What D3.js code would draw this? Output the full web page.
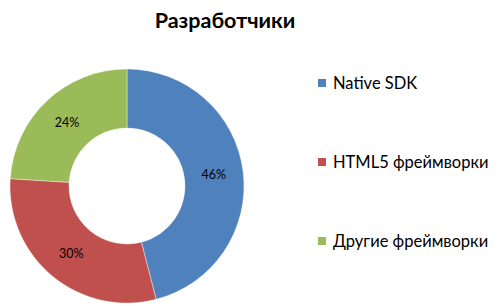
<!DOCTYPE html>
<html>
<head>
<meta charset="utf-8">
<script src="https://d3js.org/d3.v7.min.js"></script>
<style>
  body { margin: 0; background: #fff; }
  text { font-family: Lato, "Open Sans", sans-serif; }
</style>
</head>
<body>
<script>
var title = 'Разработчики';
var categories = ['Native SDK', 'HTML5 фреймворки', 'Другие фреймворки'];
var values = [46, 30, 24];
var colors = ['#4F81BD', '#C0504D', '#9BBB59'];

var width = 500;
var height = 306;
var cx = 127, cy = 186;
var outerradius = 117;
var innerradius = 58;

var svg = d3.select('body')
    .append('svg')
    .attr('width', width)
    .attr('height', height);

svg.append('text')
    .attr('x', 225)
    .attr('y', 28)
    .attr('text-anchor', 'middle')
    .style('font-size', '21.5px')
    .style('font-weight', 'bold')
    .text(title);

var color = d3.scaleOrdinal().domain(categories).range(colors);

var pie = d3.pie()
    .value(function(d) { return d.value; })
    .sort(null);

var arc = d3.arc()
    .innerRadius(innerradius)
    .outerRadius(outerradius);

var data = categories.map(function(c, i) { return { label: c, value: values[i] }; });
var total = d3.sum(values);

var g = svg.append('g')
    .attr('transform', 'translate(' + cx + ',' + cy + ')');

var slices = g.selectAll('.arc')
    .data(pie(data))
    .enter()
    .append('g');

slices.append('path')
    .attr('d', arc)
    .attr('fill', function(d) { return color(d.data.label); })
    .attr('stroke', '#fff')
    .attr('stroke-width', 0.4);

slices.append('text')
    .attr('transform', function(d) { return 'translate(' + arc.centroid(d) + ')'; })
    .attr('dy', '.35em')
    .attr('text-anchor', 'middle')
    .style('font-size', '12.5px')
    .text(function(d) { return Math.round(d.data.value / total * 100) + '%'; });

// legend
var legendY = d3.scalePoint().domain(categories).range([83, 241]);

var legend = svg.selectAll('.legend')
    .data(categories)
    .enter()
    .append('g')
    .attr('transform', function(d) { return 'translate(318,' + legendY(d) + ')'; });

legend.append('rect')
    .attr('x', 0)
    .attr('y', -4)
    .attr('width', 8)
    .attr('height', 8)
    .attr('fill', function(d) { return color(d); });

legend.append('text')
    .attr('x', 15)
    .attr('dy', '.36em')
    .style('font-size', '16.5px')
    .text(function(d) { return d; });
</script>
</body>
</html>
